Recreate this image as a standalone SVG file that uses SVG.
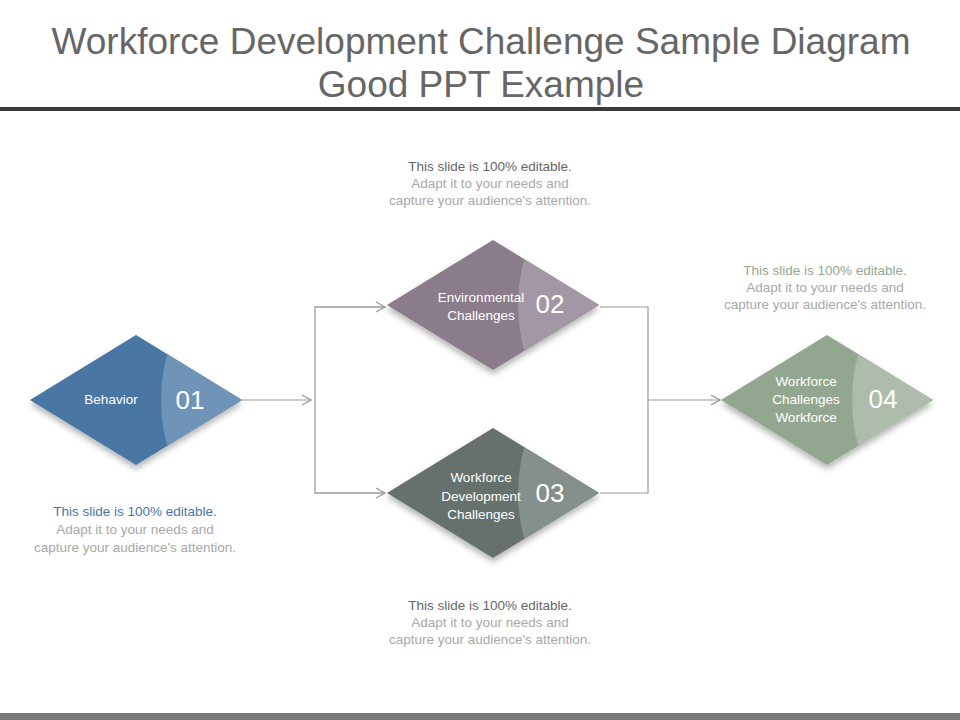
<svg xmlns="http://www.w3.org/2000/svg" width="960" height="720" viewBox="0 0 960 720">
<defs>
<style>
.t{font-family:"Liberation Sans",Arial,sans-serif}
.lbl{font-size:13.5px;fill:#fff;text-anchor:middle}
.num{font-size:26px;fill:#fff;text-anchor:middle}
.cap{font-size:13.5px;text-anchor:middle;fill:#a8a8a8}
.c{fill:none;stroke:#999;stroke-width:1.2}
</style>
<marker id="ar" markerWidth="12" markerHeight="12" refX="10" refY="6" orient="auto" markerUnits="userSpaceOnUse"><path d="M1,1 L10,6 L1,11" fill="none" stroke="#999" stroke-width="1.3"/></marker>
<filter id="sh" x="-20%" y="-20%" width="140%" height="150%"><feDropShadow dx="0" dy="4" stdDeviation="3" flood-color="#000" flood-opacity="0.3"/></filter>
<path id="dm" d="M-106,0 L0,-65 L106,0 L0,65Z"/>
<clipPath id="cp"><use href="#dm"/></clipPath>
</defs>
<rect width="960" height="720" fill="#fff"/>
<text class="t" x="481" y="54" font-size="37" fill="#666" text-anchor="middle">Workforce Development  Challenge  Sample Diagram</text>
<text class="t" x="481" y="97" font-size="37" fill="#666" text-anchor="middle">Good PPT Example</text>
<rect x="0" y="107" width="960" height="4" fill="#3a3a3a"/>
<rect x="0" y="713" width="960" height="7" fill="#7a7a7a"/>
<g id="connectors">
<line class="c" x1="242" y1="400" x2="311" y2="400" marker-end="url(#ar)"/>
<path class="c" d="M385,307 L315,307 L315,493 L385,493"/>
<line class="c" x1="315" y1="307" x2="385" y2="307" marker-end="url(#ar)"/>
<line class="c" x1="315" y1="493" x2="385" y2="493" marker-end="url(#ar)"/>
<path class="c" d="M600,307 L648,307 L648,493 L600,493"/>
<line class="c" x1="648" y1="400" x2="720" y2="400" marker-end="url(#ar)"/>
</g>
<g id="n1" transform="translate(136,400)">
<use href="#dm" fill="#4a76a3" filter="url(#sh)"/>
<circle cx="195" cy="0" r="170" fill="#7093b8" clip-path="url(#cp)"/>
<text class="t lbl" x="-25" y="4">Behavior</text>
<text class="t num" x="54" y="9">01</text>
</g>
<g id="n2" transform="translate(493,305)">
<use href="#dm" fill="#8a7b8b" filter="url(#sh)"/>
<circle cx="195" cy="0" r="170" fill="#a497a5" clip-path="url(#cp)"/>
<text class="t lbl" x="-12" y="-3">Environmental</text>
<text class="t lbl" x="-12" y="15">Challenges</text>
<text class="t num" x="57" y="8">02</text>
</g>
<g id="n3" transform="translate(493,493)">
<use href="#dm" fill="#66716e" filter="url(#sh)"/>
<circle cx="195" cy="0" r="170" fill="#85908d" clip-path="url(#cp)"/>
<text class="t lbl" x="-12" y="-11">Workforce</text>
<text class="t lbl" x="-12" y="8">Development</text>
<text class="t lbl" x="-12" y="26">Challenges</text>
<text class="t num" x="57" y="9">03</text>
</g>
<g id="n4" transform="translate(827,400)">
<use href="#dm" fill="#93a790" filter="url(#sh)"/>
<circle cx="195" cy="0" r="170" fill="#aebdab" clip-path="url(#cp)"/>
<text class="t lbl" x="-21" y="-14">Workforce</text>
<text class="t lbl" x="-21" y="4">Challenges</text>
<text class="t lbl" x="-21" y="22">Workforce</text>
<text class="t num" x="56" y="8">04</text>
</g>
<g id="captions">
<text class="t cap" x="490" y="171" style="fill:#666">This slide is 100% editable.</text>
<text class="t cap" x="490" y="188">Adapt it to your needs and</text>
<text class="t cap" x="490" y="205">capture your audience's attention.</text>
<text class="t cap" x="825" y="275" style="fill:#93a790">This slide is 100% editable.</text>
<text class="t cap" x="825" y="292">Adapt it to your needs and</text>
<text class="t cap" x="825" y="309">capture your audience's attention.</text>
<text class="t cap" x="135" y="516" style="fill:#4a76a3">This slide is 100% editable.</text>
<text class="t cap" x="135" y="534">Adapt it to your needs and</text>
<text class="t cap" x="135" y="552">capture your audience's attention.</text>
<text class="t cap" x="490" y="610" style="fill:#666">This slide is 100% editable.</text>
<text class="t cap" x="490" y="627">Adapt it to your needs and</text>
<text class="t cap" x="490" y="644">capture your audience's attention.</text>
</g>
</svg>
